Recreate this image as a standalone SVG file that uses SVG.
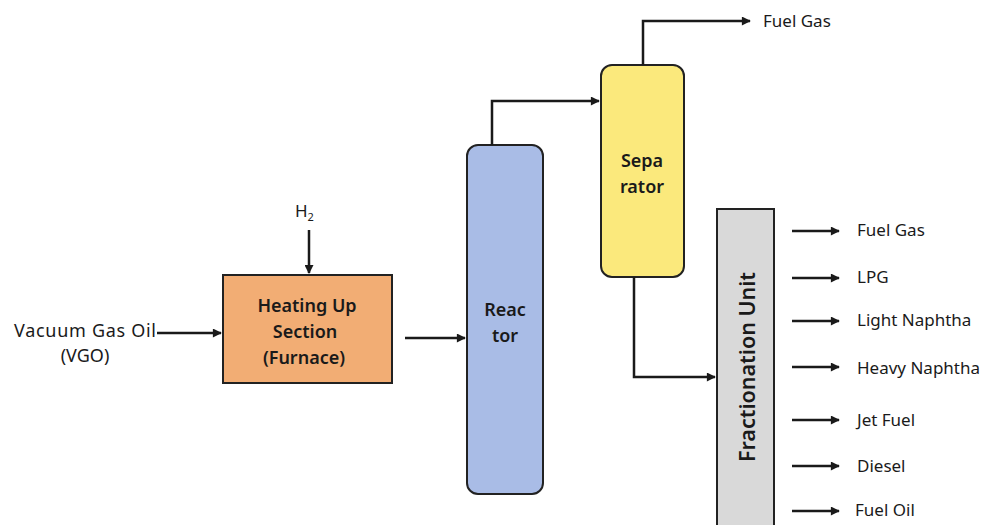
<svg xmlns="http://www.w3.org/2000/svg" width="996" height="525" viewBox="0 0 996 525">
  <style>
    .lbl { font-family: "Noto Sans", "Liberation Sans", sans-serif; font-size: 17px; fill: #1a1a1a; }
    .unit { font-family: "Noto Sans", "Liberation Sans", sans-serif; font-size: 18px; font-weight: 600; fill: #1a1a1a; text-anchor: middle; }
    .box { stroke: #222; stroke-width: 2; }
    .flow { fill: none; stroke: #1a1a1a; stroke-width: 2.5; marker-end: url(#arrow); }
  </style>
  <defs>
    <marker id="arrow" viewBox="0 0 10 10" refX="9" refY="5" markerWidth="4.2" markerHeight="3.6" orient="auto" markerUnits="strokeWidth">
      <path d="M0,0 L10,5 L0,10 z" fill="#1a1a1a"/>
    </marker>
  </defs>
  <rect width="996" height="525" fill="#ffffff"/>

  <!-- feed labels -->
  <g id="feed-vgo">
    <text class="lbl" x="14" y="337" style="font-size:18px" textLength="142">Vacuum Gas Oil</text>
    <text class="lbl" x="85" y="362" style="font-size:18px;text-anchor:middle">(VGO)</text>
  </g>
  <g id="feed-h2">
    <text class="lbl" x="295" y="217">H<tspan style="font-size:11px" dy="4">2</tspan></text>
  </g>

  <!-- process units -->
  <g id="furnace">
    <rect class="box" x="223" y="275" width="169" height="108" fill="#F2AD74"/>
    <text class="unit" x="307" y="312">Heating Up</text>
    <text class="unit" x="305" y="338">Section</text>
    <text class="unit" x="304" y="364">(Furnace)</text>
  </g>
  <g id="reactor">
    <rect class="box" x="467" y="145" width="76" height="349" rx="11" fill="#A9BCE6"/>
    <text class="unit" x="505" y="316">Reac</text>
    <text class="unit" x="505" y="342">tor</text>
  </g>
  <g id="separator">
    <rect class="box" x="601" y="65" width="83" height="212" rx="11" fill="#FBE97C"/>
    <text class="unit" x="642" y="167">Sepa</text>
    <text class="unit" x="642" y="193">rator</text>
  </g>
  <g id="fractionation">
    <rect class="box" x="717" y="209" width="57" height="330" fill="#D9D9D9"/>
    <text class="unit" style="font-size:21.5px" transform="translate(755,367) rotate(-90)">Fractionation Unit</text>
  </g>

  <!-- product labels -->
  <g id="products">
    <text class="lbl" x="763" y="27">Fuel Gas</text>
    <text class="lbl" x="857" y="236">Fuel Gas</text>
    <text class="lbl" x="857" y="283">LPG</text>
    <text class="lbl" x="857" y="326">Light Naphtha</text>
    <text class="lbl" x="857" y="374">Heavy Naphtha</text>
    <text class="lbl" x="857" y="426">Jet Fuel</text>
    <text class="lbl" x="857" y="472">Diesel</text>
    <text class="lbl" x="855" y="516">Fuel Oil</text>
  </g>

  <!-- connectors -->
  <g id="connectors">
    <path class="flow" d="M157,333 H221"/>
    <path class="flow" d="M309,230 V273"/>
    <path class="flow" d="M405,338 H465"/>
    <path class="flow" d="M492,145 V101 H599"/>
    <path class="flow" d="M643,65 V21 H750"/>
    <path class="flow" d="M634,277 V377 H715"/>
    <path class="flow" d="M792,231 H839"/>
    <path class="flow" d="M792,278 H839"/>
    <path class="flow" d="M792,321 H839"/>
    <path class="flow" d="M792,367 H839"/>
    <path class="flow" d="M792,420 H839"/>
    <path class="flow" d="M792,466 H839"/>
    <path class="flow" d="M792,511 H839"/>
  </g>
</svg>
